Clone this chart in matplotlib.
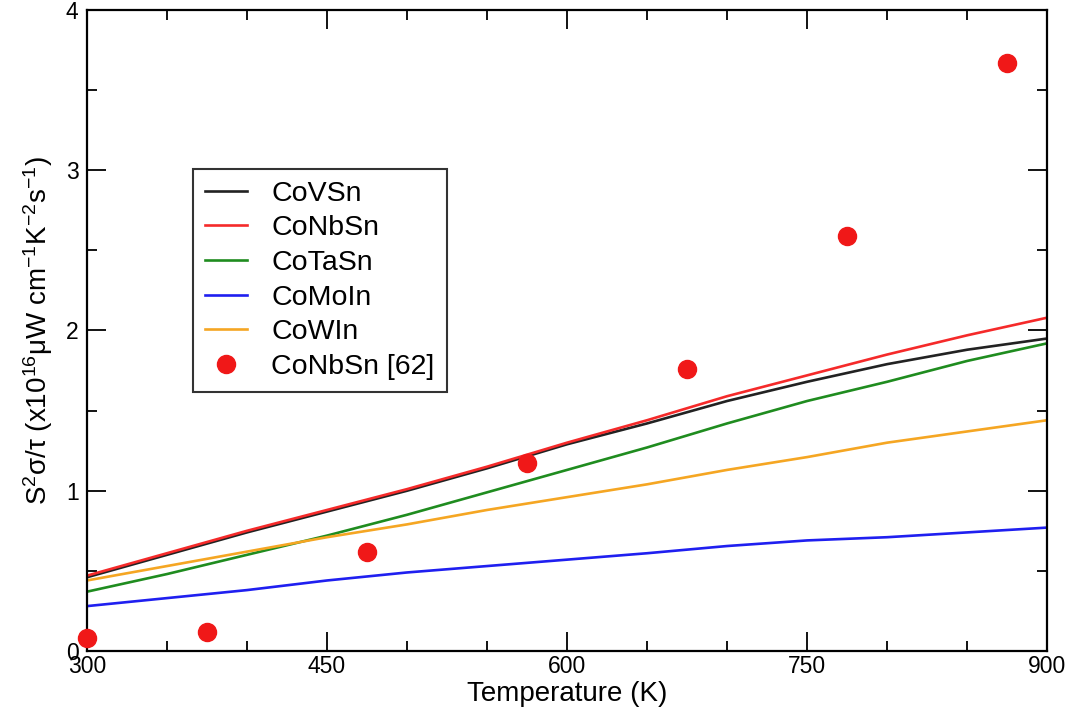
import matplotlib.pyplot as plt
import numpy as np

plt.rcParams['font.family'] = ['Liberation Sans', 'DejaVu Sans']
plt.rcParams['mathtext.fontset'] = 'custom'
plt.rcParams['mathtext.rm'] = 'Liberation Sans'
plt.rcParams['mathtext.it'] = 'Liberation Sans:italic'

# temperature grid (K)
temp = [300, 350, 400, 450, 500, 550, 600, 650, 700, 750, 800, 850, 900]

# S^2 sigma/tau (x10^16 uW cm^-1 K^-2 s^-1)
covsn  = [0.46, 0.60, 0.74, 0.87, 1.00, 1.14, 1.29, 1.42, 1.56, 1.68, 1.79, 1.88, 1.95]
conbsn = [0.47, 0.61, 0.75, 0.88, 1.01, 1.15, 1.30, 1.44, 1.59, 1.72, 1.85, 1.97, 2.08]
cotasn = [0.37, 0.48, 0.60, 0.72, 0.85, 0.99, 1.13, 1.27, 1.42, 1.56, 1.68, 1.81, 1.92]
comoin = [0.28, 0.33, 0.38, 0.44, 0.49, 0.53, 0.57, 0.61, 0.655, 0.69, 0.71, 0.74, 0.77]
cowin  = [0.44, 0.53, 0.62, 0.71, 0.79, 0.88, 0.96, 1.04, 1.13, 1.21, 1.30, 1.37, 1.44]

# reference data CoNbSn [62]
ref_t = [300, 375, 475, 575, 675, 775, 875]
ref_y = [0.08, 0.12, 0.62, 1.17, 1.76, 2.59, 3.67]

fig = plt.figure(figsize=(10.73, 7.23), dpi=100)
ax = fig.add_axes([0.081, 0.0996, 0.895, 0.8866])

lw = 1.9
ax.plot(temp, covsn, color='#222222', lw=lw, label='CoVSn')
ax.plot(temp, conbsn, color='#f52a2a', lw=lw, label='CoNbSn')
ax.plot(temp, cotasn, color='#1f8c1f', lw=lw, label='CoTaSn')
ax.plot(temp, comoin, color='#1f1ff0', lw=lw, label='CoMoIn')
ax.plot(temp, cowin, color='#f5a623', lw=lw, label='CoWIn')
ax.plot(ref_t, ref_y, 'o', color='#f01818', ms=13, label='CoNbSn [62]', clip_on=False, zorder=5)

ax.set_xlim(300, 900)
ax.set_ylim(0, 4)
ax.set_xticks([300, 450, 600, 750, 900])
ax.set_xticks(np.arange(300, 901, 50), minor=True)
ax.set_yticks([0, 1, 2, 3, 4])
ax.set_yticks(np.arange(0, 4.01, 0.5), minor=True)
ax.tick_params(which='both', direction='in', top=True, right=True, labelsize=16.5, width=1.3)
ax.tick_params(which='major', length=14)
ax.tick_params(which='minor', length=7)
ax.tick_params(axis='x', pad=3)
ax.tick_params(axis='y', pad=6)
for s in ax.spines.values():
    s.set_linewidth(1.6)

ax.set_xlabel('Temperature (K)', fontsize=20, labelpad=2)
ax.set_ylabel(r'S$^{2}$σ/τ (x10$^{16}$μW cm$^{-1}$K$^{-2}$s$^{-1}$)', fontsize=20, labelpad=8)

leg = ax.legend(loc='upper left', bbox_to_anchor=(0.110, 0.752), fontsize=20.5,
                frameon=True, fancybox=False, borderpad=0.42, labelspacing=0.3,
                handlelength=1.5, handletextpad=0.85, borderaxespad=0)
leg.get_frame().set_edgecolor('black')
leg.get_frame().set_linewidth(1.5)

fig.savefig('out.png', dpi=100)
